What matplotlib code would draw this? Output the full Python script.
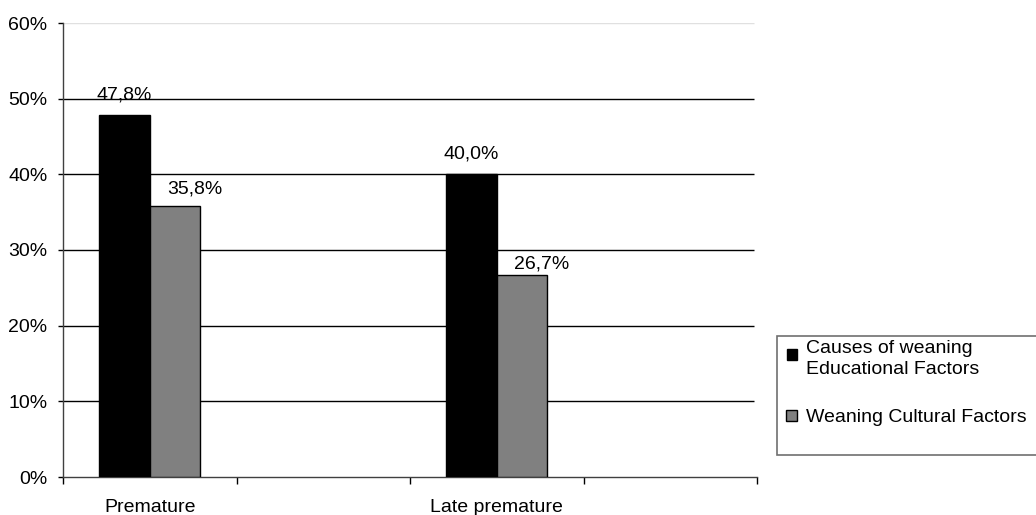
import numpy as np
import matplotlib
matplotlib.use("Agg")
import matplotlib.pyplot as plt
from matplotlib.patches import Rectangle

# Data (percent)
categories = ["Premature", "", "Late premature", ""]
educational = [47.8, np.nan, 40.0, np.nan]
cultural = [35.8, np.nan, 26.7, np.nan]
series_names = ["Causes of weaning\nEducational Factors", "Weaning Cultural Factors"]
y_ticks = [0, 10, 20, 30, 40, 50, 60]

plt.rcParams['font.family'] = ['Liberation Sans', 'DejaVu Sans']
plt.rcParams['font.size'] = 14

W, H = 1036, 515
fig = plt.figure(figsize=(W / 100, H / 100), dpi=100)
ax = fig.add_axes([63 / W, 38 / H, 694 / W, 454 / H])

x = np.arange(len(categories))
w = 0.29
colors = ["#000000", "#808080"]
# label offsets in pixels (dx, dy above bar top), as placed in the original
label_offsets = [[(0, 16), None, (0, 16), None],
                 [(20, 13), None, (20, 6), None]]

for i, (vals, col) in enumerate(zip([educational, cultural], colors)):
    off = (i - 0.5) * w
    for j, (xi, v) in enumerate(zip(x, vals)):
        if np.isnan(v):
            continue
        ax.bar(xi + off, v, width=w, color=col, edgecolor="black", linewidth=1, zorder=3)
        ax.annotate(f"{v:.1f}%".replace(".", ","), (xi + off, v),
                    xytext=label_offsets[i][j], textcoords="offset pixels",
                    ha="center", va="baseline", fontsize=14, zorder=4)

# gridlines
for t in y_ticks[1:]:
    c = "#e0e0e0" if t == 60 else "#000000"
    ax.plot([-0.5, 3.48], [t, t], color=c, linewidth=1, zorder=1, solid_capstyle="butt")

ax.set_xlim(-0.5, 3.5)
ax.set_ylim(0, 60)
ax.set_yticks(y_ticks)
ax.set_yticklabels([f"{t}%" for t in y_ticks])
ax.set_xticks(x)
ax.set_xticklabels(categories)
ax.set_xticks(np.arange(-0.5, 3.6, 1.0), minor=True)
ax.tick_params(axis="x", which="major", length=0, pad=15.5)
ax.tick_params(axis="x", which="minor", length=5, width=1, direction="out")
ax.tick_params(axis="y", length=3.6, width=1, pad=7.5)

for s in ["top", "right"]:
    ax.spines[s].set_visible(False)
for s in ["left", "bottom"]:
    ax.spines[s].set_linewidth(1)
    ax.spines[s].set_color("#404040")

# legend box (runs past the right edge like the reference)
fig.patches.append(Rectangle((777 / W, 1 - 455 / H), 0.30, 119 / H, transform=fig.transFigure,
                             facecolor="white", edgecolor="#707070", linewidth=1.2))
fig.patches.append(Rectangle((786.5 / W, 1 - 360 / H), 10 / W, 11.5 / H, transform=fig.transFigure,
                             facecolor=colors[0], edgecolor="black", linewidth=1))
fig.patches.append(Rectangle((786 / W, 1 - 421 / H), 11 / W, 11 / H, transform=fig.transFigure,
                             facecolor=colors[1], edgecolor="black", linewidth=1))
line1, line2 = series_names[0].split("\n")
fig.text(806 / W, 1 - 353.3 / H, line1, va="baseline", ha="left", fontsize=14)
fig.text(806 / W, 1 - 374.3 / H, line2, va="baseline", ha="left", fontsize=14)
fig.text(806 / W, 1 - 422.3 / H, series_names[1], va="baseline", ha="left", fontsize=14)

fig.savefig("out.png", dpi=100)
plt.close(fig)
